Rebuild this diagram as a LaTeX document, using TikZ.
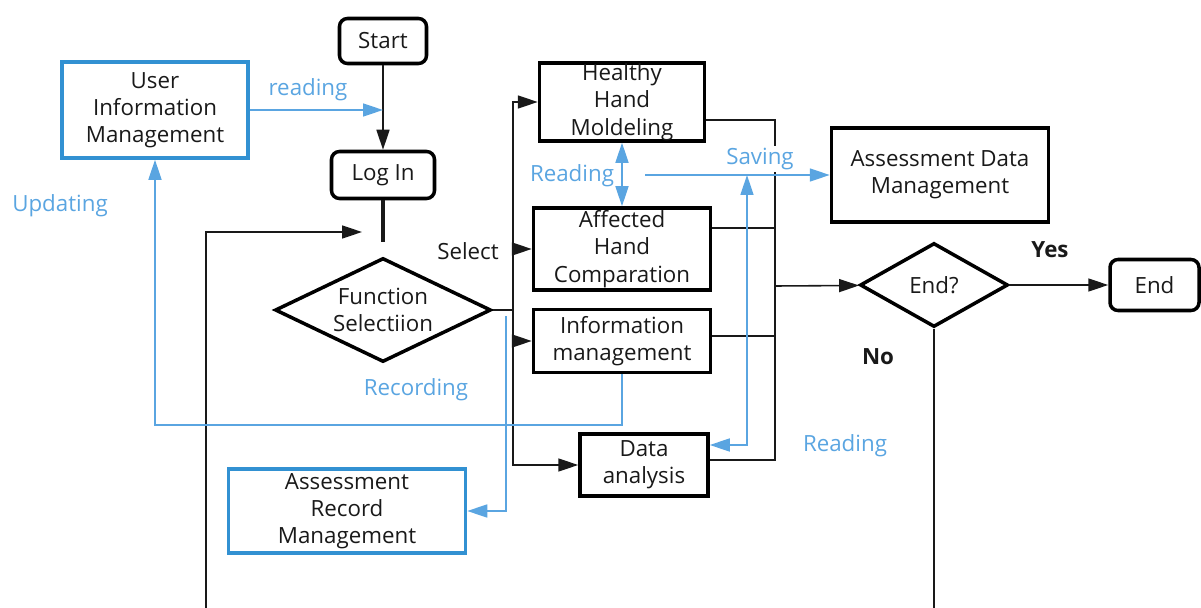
\documentclass[tikz,border=0pt]{standalone}
\usepackage{fontspec}
\setmainfont{Open Sans}
\usetikzlibrary{arrows.meta,shapes.geometric,calc}
\definecolor{lineblue}{RGB}{90,165,225}
\definecolor{boxblue}{RGB}{50,145,210}
\newcommand{\pxl}{0.02cm}
\tikzset{
    box/.style={draw,line width=2pt,align=center,inner xsep=2pt,inner ysep=0pt,
        font=\fontsize{12.7}{15.5}\selectfont,text=black!90},
    term/.style={box,rounded corners=1.6mm},
    bluebox/.style={box,draw=boxblue},
    decision/.style={diamond,draw,line width=2pt,align=center,inner sep=0pt,
        font=\fontsize{12.7}{15.5}\selectfont,text=black!90},
    conn/.style={line width=0.9pt,black!90},
    bconn/.style={line width=0.9pt,color=lineblue},
    lbl/.style={text=lineblue,inner sep=1pt,font=\fontsize{12.7}{15.5}\selectfont},
    txt/.style={text=black!90,inner sep=1pt,font=\fontsize{12.7}{15.5}\selectfont}
}
\begin{document}
\begin{tikzpicture}[x=0.02cm,y=-0.02cm,>={Triangle[length=4mm,width=2.6mm]}]
    \useasboundingbox (0,0) rectangle (1201,608);
    % boxes
    \node[term,minimum width=87*\pxl,minimum height=45*\pxl](start) at (383,41){Start};
    \node[term,minimum width=103*\pxl,minimum height=47*\pxl](login) at (383,175){Log In};
    \node[bluebox,minimum width=186*\pxl,minimum height=96*\pxl](uim) at (155,110){User\\Information\\Management};
    \node[decision,aspect=2.08,minimum width=216*\pxl,minimum height=104*\pxl](func) at (383,310){Function\\Selectiion};
    \node[box,minimum width=165*\pxl,minimum height=78*\pxl](hhm) at (622,102){Healthy\\Hand\\Moldeling};
    \node[box,minimum width=177*\pxl,minimum height=82*\pxl](ahc) at (622,249){Affected\\Hand\\Comparation};
    \node[box,minimum width=177*\pxl,minimum height=63*\pxl](infm) at (622,341){Information\\management};
    \node[box,minimum width=128*\pxl,minimum height=62*\pxl](dana) at (644,465){Data\\analysis};
    \node[box,minimum width=217*\pxl,minimum height=94*\pxl](adm) at (940,175){Assessment Data\\Management};
    \node[decision,aspect=1.76,minimum width=148*\pxl,minimum height=84*\pxl](endq) at (934,285){End?};
    \node[term,minimum width=89*\pxl,minimum height=51*\pxl](stop) at (1154.5,285){End};
    \node[bluebox,minimum width=237*\pxl,minimum height=84*\pxl](arm) at (347,511){Assessment\\Record\\Management};
    % free ends
    \coordinate (gap) at (383,242);
    \coordinate (loopbot) at (206,608);
    \coordinate (loopin) at (362,232);
    \coordinate (busL) at (513,310);
    \coordinate (busR) at (775,286);
    \coordinate (nobot) at (934,608);
    \coordinate (savL) at (645,175);
    \coordinate (savJ) at (747,175);
    \coordinate (armT) at (506,316);
    % black flow
    \draw[conn,->](start)--(login);
    \draw[line width=2pt,black!90](login)--(gap);
    \draw[conn,->](loopbot)|-(loopin);
    \draw[conn](func)--(busL);
    \foreach \n in {hhm,ahc,infm,dana}
    {
        \draw[conn,->](busL)|-(\n.west);
    }
    \foreach \n/\dy in {hhm/18,ahc/-21,infm/-5,dana/-5}
    {
        \draw[conn]($(\n.east)+(0,\dy)$)-|(busR);
    }
    \draw[conn,->](busR)--(endq);
    \draw[conn,->](endq)--(stop);
    \draw[conn](endq)--(nobot);
    % blue data flow
    \draw[bconn,->](uim)--(uim-|start);
    \draw[bconn,<->](hhm)--(ahc);
    \draw[bconn,->](savL)--(adm);
    \draw[bconn,<->]($(dana.east)+(0,-20)$)-|(savJ);
    \draw[bconn,->](infm.south)--++(0,51)-|(uim.south);
    \draw[bconn,->](armT)|-(arm.east);
    % labels
    \node[lbl](rd1) at (308,90){reading};
    \node[lbl](rd2) at (572,176){Reading};
    \node[lbl,fill=white](sav) at (760,159){Saving};
    \node[lbl](rd3) at (845,446){Reading};
    \node[lbl](rec) at (416,390){Recording};
    \node[lbl](upd) at (60,206){Updating};
    \node[txt](sel) at (468,251){Select};
    \node[txt,font=\fontsize{12.7}{15.5}\selectfont\bfseries](yes) at (1050,250){Yes};
    \node[txt,font=\fontsize{12.7}{15.5}\selectfont\bfseries](no) at (878,357){No};
\end{tikzpicture}
\end{document}
